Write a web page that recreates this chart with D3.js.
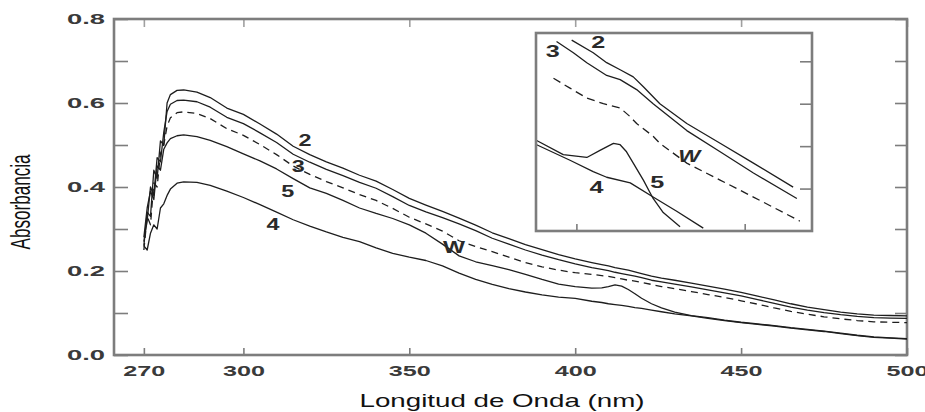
<!DOCTYPE html>
<html>
<head>
<meta charset="utf-8">
<script src="https://cdn.jsdelivr.net/npm/d3@7"></script>
<style>
  body { margin: 0; background: #fff; }
  svg { display: block; }
</style>
</head>
<body>
<svg id="chart" width="925" height="412"></svg>
<script>
// Absorbance spectra (nm vs absorbance) for samples 2, 3, 4, 5 and W
const wavelengths = [270, 271, 272, 273, 274, 275, 276, 277, 278, 280, 282, 286, 290, 295, 300, 305, 310, 315, 320, 325,
  330, 335, 340, 345, 350, 355, 360, 365, 370, 375, 380, 385, 390, 395, 400, 405, 408, 410, 412, 414,
  416, 418, 420, 423, 426, 430, 435, 440, 445, 450, 455, 460, 465, 470, 475, 480, 485, 490, 495, 500];

const curve2 = [0.26, 0.34, 0.33, 0.44, 0.42, 0.51, 0.50, 0.60, 0.620, 0.630, 0.631, 0.626, 0.613, 0.588, 0.573, 0.550, 0.526, 0.497, 0.477, 0.460,
  0.445, 0.428, 0.414, 0.394, 0.373, 0.357, 0.342, 0.326, 0.309, 0.291, 0.277, 0.263, 0.251, 0.239, 0.229, 0.220, 0.215, 0.212, 0.208, 0.205,
  0.202, 0.198, 0.194, 0.188, 0.183, 0.178, 0.171, 0.164, 0.157, 0.149, 0.140, 0.131, 0.122, 0.114, 0.108, 0.102, 0.098, 0.095, 0.094, 0.093];

const curve3 = [0.27, 0.32, 0.40, 0.38, 0.47, 0.46, 0.53, 0.58, 0.597, 0.606, 0.607, 0.603, 0.590, 0.566, 0.551, 0.529, 0.506, 0.478, 0.459, 0.442,
  0.427, 0.411, 0.397, 0.377, 0.356, 0.341, 0.327, 0.312, 0.296, 0.278, 0.264, 0.250, 0.238, 0.227, 0.217, 0.208, 0.204, 0.201, 0.197, 0.194,
  0.191, 0.188, 0.184, 0.178, 0.174, 0.169, 0.162, 0.155, 0.148, 0.141, 0.132, 0.123, 0.114, 0.107, 0.101, 0.096, 0.092, 0.089, 0.088, 0.087];

const curveW = [0.25, 0.33, 0.31, 0.41, 0.40, 0.48, 0.50, 0.545, 0.565, 0.577, 0.579, 0.575, 0.563, 0.539, 0.523, 0.501, 0.477, 0.450, 0.430, 0.413,
  0.398, 0.382, 0.368, 0.349, 0.328, 0.312, 0.295, 0.272, 0.258, 0.246, 0.233, 0.220, 0.210, 0.202, 0.196, 0.192, 0.189, 0.187, 0.184, 0.181,
  0.178, 0.176, 0.173, 0.168, 0.163, 0.158, 0.151, 0.144, 0.137, 0.129, 0.121, 0.112, 0.104, 0.097, 0.091, 0.086, 0.082, 0.079, 0.078, 0.077];

const curve5 = [0.28, 0.35, 0.39, 0.37, 0.45, 0.44, 0.49, 0.505, 0.515, 0.522, 0.524, 0.520, 0.511, 0.496, 0.479, 0.462, 0.443, 0.420, 0.398, 0.385,
  0.368, 0.350, 0.337, 0.325, 0.310, 0.290, 0.264, 0.236, 0.222, 0.213, 0.203, 0.192, 0.180, 0.169, 0.163, 0.159, 0.160, 0.163, 0.167, 0.164,
  0.156, 0.146, 0.135, 0.122, 0.112, 0.102, 0.094, 0.089, 0.083, 0.078, 0.074, 0.070, 0.065, 0.061, 0.057, 0.052, 0.047, 0.043, 0.041, 0.039];

const curve4 = [0.26, 0.25, 0.29, 0.31, 0.30, 0.35, 0.36, 0.38, 0.395, 0.409, 0.412, 0.411, 0.404, 0.390, 0.375, 0.358, 0.340, 0.322, 0.307, 0.293,
  0.280, 0.270, 0.255, 0.242, 0.233, 0.225, 0.212, 0.195, 0.180, 0.168, 0.158, 0.150, 0.143, 0.138, 0.135, 0.128, 0.125, 0.122, 0.120, 0.118,
  0.116, 0.113, 0.111, 0.107, 0.103, 0.098, 0.093, 0.087, 0.082, 0.077, 0.073, 0.069, 0.064, 0.060, 0.056, 0.051, 0.046, 0.042, 0.040, 0.038];

// Enlarged view of the 390-470 nm region
const insetNm2  = [398.6, 405.0, 409.0, 413.0, 416.9, 419.9, 424.8, 432.8, 442.7, 452.6, 464.4];
const insetAbs2 = [0.235, 0.226, 0.219, 0.214, 0.209, 0.202, 0.190, 0.176, 0.162, 0.148, 0.131];
const insetNm3  = [394.1, 399.1, 403.1, 409.0, 413.0, 417.9, 422.8, 432.8, 442.7, 452.6, 465.5];
const insetAbs3 = [0.234, 0.226, 0.219, 0.210, 0.207, 0.200, 0.190, 0.171, 0.156, 0.141, 0.123];
const insetNmW  = [393.2, 398.1, 403.1, 408.0, 413.0, 415.9, 417.9, 422.8, 424.8, 432.8, 442.7, 452.6, 466.4];
const insetAbsW = [0.208, 0.201, 0.194, 0.190, 0.187, 0.181, 0.176, 0.167, 0.162, 0.148, 0.136, 0.124, 0.107];
const insetNm5  = [388.2, 396.1, 403.1, 407.0, 411.0, 413.0, 414.9, 416.9, 419.9, 422.8, 425.8, 430.8];
const insetAbs5 = [0.164, 0.154, 0.152, 0.157, 0.162, 0.161, 0.156, 0.148, 0.136, 0.123, 0.113, 0.103];
const insetNm4  = [388.2, 398.1, 405.0, 409.0, 416.0, 422.8, 429.8, 437.7];
const insetAbs4 = [0.161, 0.150, 0.142, 0.138, 0.134, 0.124, 0.114, 0.102];

const xTickValues = [270, 300, 350, 400, 450, 500];
const yTickValues = [0, 0.1, 0.2, 0.3, 0.4, 0.5, 0.6, 0.7, 0.8];
const yLabelValues = [0, 0.2, 0.4, 0.6, 0.8];
const insetXTicks = [400, 450];
const insetYTicks = [0.13, 0.16, 0.19, 0.22];

const series = [
  { name: "2", values: curve2, dashed: false },
  { name: "3", values: curve3, dashed: false },
  { name: "W", values: curveW, dashed: true },
  { name: "5", values: curve5, dashed: false },
  { name: "4", values: curve4, dashed: false }
];

const svg = d3.select("#chart");
const x = d3.scaleLinear().domain([261, 500]).range([114, 907]);
const y = d3.scaleLinear().domain([0, 0.8]).range([355, 19]);

const frameColor = "#7d7d7d";
const lineColor = "#1e1e1e";
const labelFont = "'Liberation Sans', Arial, sans-serif";

// axes: ticks point inward on all four sides
function styleAxis(g) {
  g.select(".domain").remove();
  g.selectAll(".tick line").attr("stroke", frameColor).attr("stroke-width", 1.6);
}

svg.append("g")
  .attr("transform", `translate(0,${y(0)})`)
  .call(d3.axisBottom(x).tickValues(xTickValues).tickSizeInner(-7).tickSizeOuter(0).tickPadding(11).tickFormat(d3.format("d")))
  .call(styleAxis)
  .call(g => g.selectAll(".tick text")
    .attr("font-family", labelFont).attr("font-weight", "bold").attr("font-size", 14)
    .attr("fill", "#3a3a3a").attr("textLength", 42).attr("lengthAdjust", "spacingAndGlyphs"));

svg.append("g")
  .attr("transform", `translate(0,${y(0.8)})`)
  .call(d3.axisTop(x).tickValues(xTickValues).tickSizeInner(-8).tickSizeOuter(0).tickFormat(""))
  .call(styleAxis)
  .call(g => g.selectAll(".tick line").attr("stroke", "#a0a0a0"));

svg.append("g")
  .attr("transform", `translate(${x(261)},0)`)
  .call(d3.axisLeft(y).tickValues(yTickValues).tickSizeInner(-14).tickSizeOuter(0).tickPadding(9)
    .tickFormat(d => yLabelValues.some(v => Math.abs(v - d) < 1e-9) ? d3.format(".1f")(d) : ""))
  .call(styleAxis)
  .call(g => g.selectAll(".tick text")
    .attr("font-family", labelFont).attr("font-weight", "bold").attr("font-size", 14)
    .attr("fill", "#3a3a3a")
    .each(function () { if (this.textContent) d3.select(this).attr("textLength", 38).attr("lengthAdjust", "spacingAndGlyphs"); }));

svg.append("g")
  .attr("transform", `translate(${x(500)},0)`)
  .call(d3.axisRight(y).tickValues(yTickValues).tickSizeInner(-12).tickSizeOuter(0).tickFormat(""))
  .call(styleAxis);

// plot frame
svg.append("rect")
  .attr("x", x(261)).attr("y", y(0.8))
  .attr("width", x(500) - x(261)).attr("height", y(0) - y(0.8))
  .attr("fill", "none").attr("stroke", frameColor).attr("stroke-width", 2.6);

// spectra
const line = d3.line().x((d, i) => x(wavelengths[i])).y(d => y(d));
svg.append("g").selectAll("path").data(series).join("path")
  .attr("d", d => line(d.values))
  .attr("fill", "none")
  .attr("stroke", lineColor)
  .attr("stroke-width", 1.3)
  .attr("stroke-linejoin", "round")
  .attr("stroke-dasharray", d => d.dashed ? "7,5" : null);

// curve labels
const curveLabels = [
  { text: "2", nm: 318.6, a: 0.510, w: 13 },
  { text: "3", nm: 316.5, a: 0.450, w: 13 },
  { text: "5", nm: 313.4, a: 0.390, w: 13 },
  { text: "4", nm: 308.9, a: 0.310, w: 13 },
  { text: "W", nm: 363.5, a: 0.255, w: 22 }
];
svg.append("g").selectAll("text").data(curveLabels).join("text")
  .attr("x", d => x(d.nm)).attr("y", d => y(d.a))
  .attr("text-anchor", "middle").attr("dominant-baseline", "central")
  .attr("font-family", labelFont).attr("font-weight", "bold").attr("font-size", 17)
  .attr("fill", "#2a2a2a")
  .attr("textLength", d => d.w).attr("lengthAdjust", "spacingAndGlyphs")
  .text(d => d.text);

// axis titles
svg.append("text")
  .attr("x", 502).attr("y", 407)
  .attr("text-anchor", "middle")
  .attr("font-family", labelFont).attr("font-size", 19)
  .attr("fill", "#111")
  .attr("textLength", 285).attr("lengthAdjust", "spacingAndGlyphs")
  .text("Longitud de Onda (nm)");

svg.append("text")
  .attr("transform", "translate(30,202) rotate(-90)")
  .attr("text-anchor", "middle")
  .attr("font-family", labelFont).attr("font-size", 27)
  .attr("fill", "#111")
  .attr("textLength", 95).attr("lengthAdjust", "spacingAndGlyphs")
  .text("Absorbancia");

// inset
const ix = d3.scaleLinear().domain([388, 470]).range([536, 812]);
const iy = d3.scaleLinear().domain([0.10, 0.24]).range([231, 33]);
const inset = svg.append("g");
svg.append("defs").append("clipPath").attr("id", "insetClip")
  .append("rect").attr("x", 536).attr("y", 33).attr("width", 276).attr("height", 198);

inset.append("rect").attr("x", 536).attr("y", 33).attr("width", 276).attr("height", 198).attr("fill", "#fff");

inset.append("g")
  .attr("transform", `translate(0,${iy(0.10)})`)
  .call(d3.axisBottom(ix).tickValues(insetXTicks).tickSizeInner(-7).tickSizeOuter(0).tickFormat(""))
  .call(styleAxis);
inset.append("g")
  .attr("transform", `translate(${ix(470)},0)`)
  .call(d3.axisRight(iy).tickValues(insetYTicks).tickSizeInner(-12).tickSizeOuter(0).tickFormat(""))
  .call(styleAxis);

const insetSeries = [
  { nm: insetNm2, abs: insetAbs2, dashed: false },
  { nm: insetNm3, abs: insetAbs3, dashed: false },
  { nm: insetNmW, abs: insetAbsW, dashed: true },
  { nm: insetNm5, abs: insetAbs5, dashed: false },
  { nm: insetNm4, abs: insetAbs4, dashed: false }
];
const insetLine = s => d3.line().x((d, i) => ix(s.nm[i])).y(d => iy(d))(s.abs);
inset.append("g").attr("clip-path", "url(#insetClip)")
  .selectAll("path").data(insetSeries).join("path")
  .attr("d", d => insetLine(d))
  .attr("fill", "none")
  .attr("stroke", lineColor)
  .attr("stroke-width", 1.3)
  .attr("stroke-linejoin", "round")
  .attr("stroke-dasharray", d => d.dashed ? "8,5" : null);

const insetLabels = [
  { text: "3", nm: 393.0, a: 0.227, w: 14 },
  { text: "2", nm: 406.5, a: 0.233, w: 14 },
  { text: "W", nm: 433.5, a: 0.153, w: 22 },
  { text: "4", nm: 406.0, a: 0.131, w: 14 },
  { text: "5", nm: 424.0, a: 0.134, w: 14 }
];
inset.append("g").selectAll("text").data(insetLabels).join("text")
  .attr("x", d => ix(d.nm)).attr("y", d => iy(d.a))
  .attr("text-anchor", "middle").attr("dominant-baseline", "central")
  .attr("font-family", labelFont).attr("font-weight", "bold").attr("font-size", 17)
  .attr("font-style", d => d.text === "W" ? "italic" : "normal")
  .attr("fill", "#2a2a2a")
  .attr("textLength", d => d.w).attr("lengthAdjust", "spacingAndGlyphs")
  .text(d => d.text);

inset.append("rect").attr("x", 536).attr("y", 33).attr("width", 276).attr("height", 198)
  .attr("fill", "none").attr("stroke", frameColor).attr("stroke-width", 2.6);
</script>
</body>
</html>
